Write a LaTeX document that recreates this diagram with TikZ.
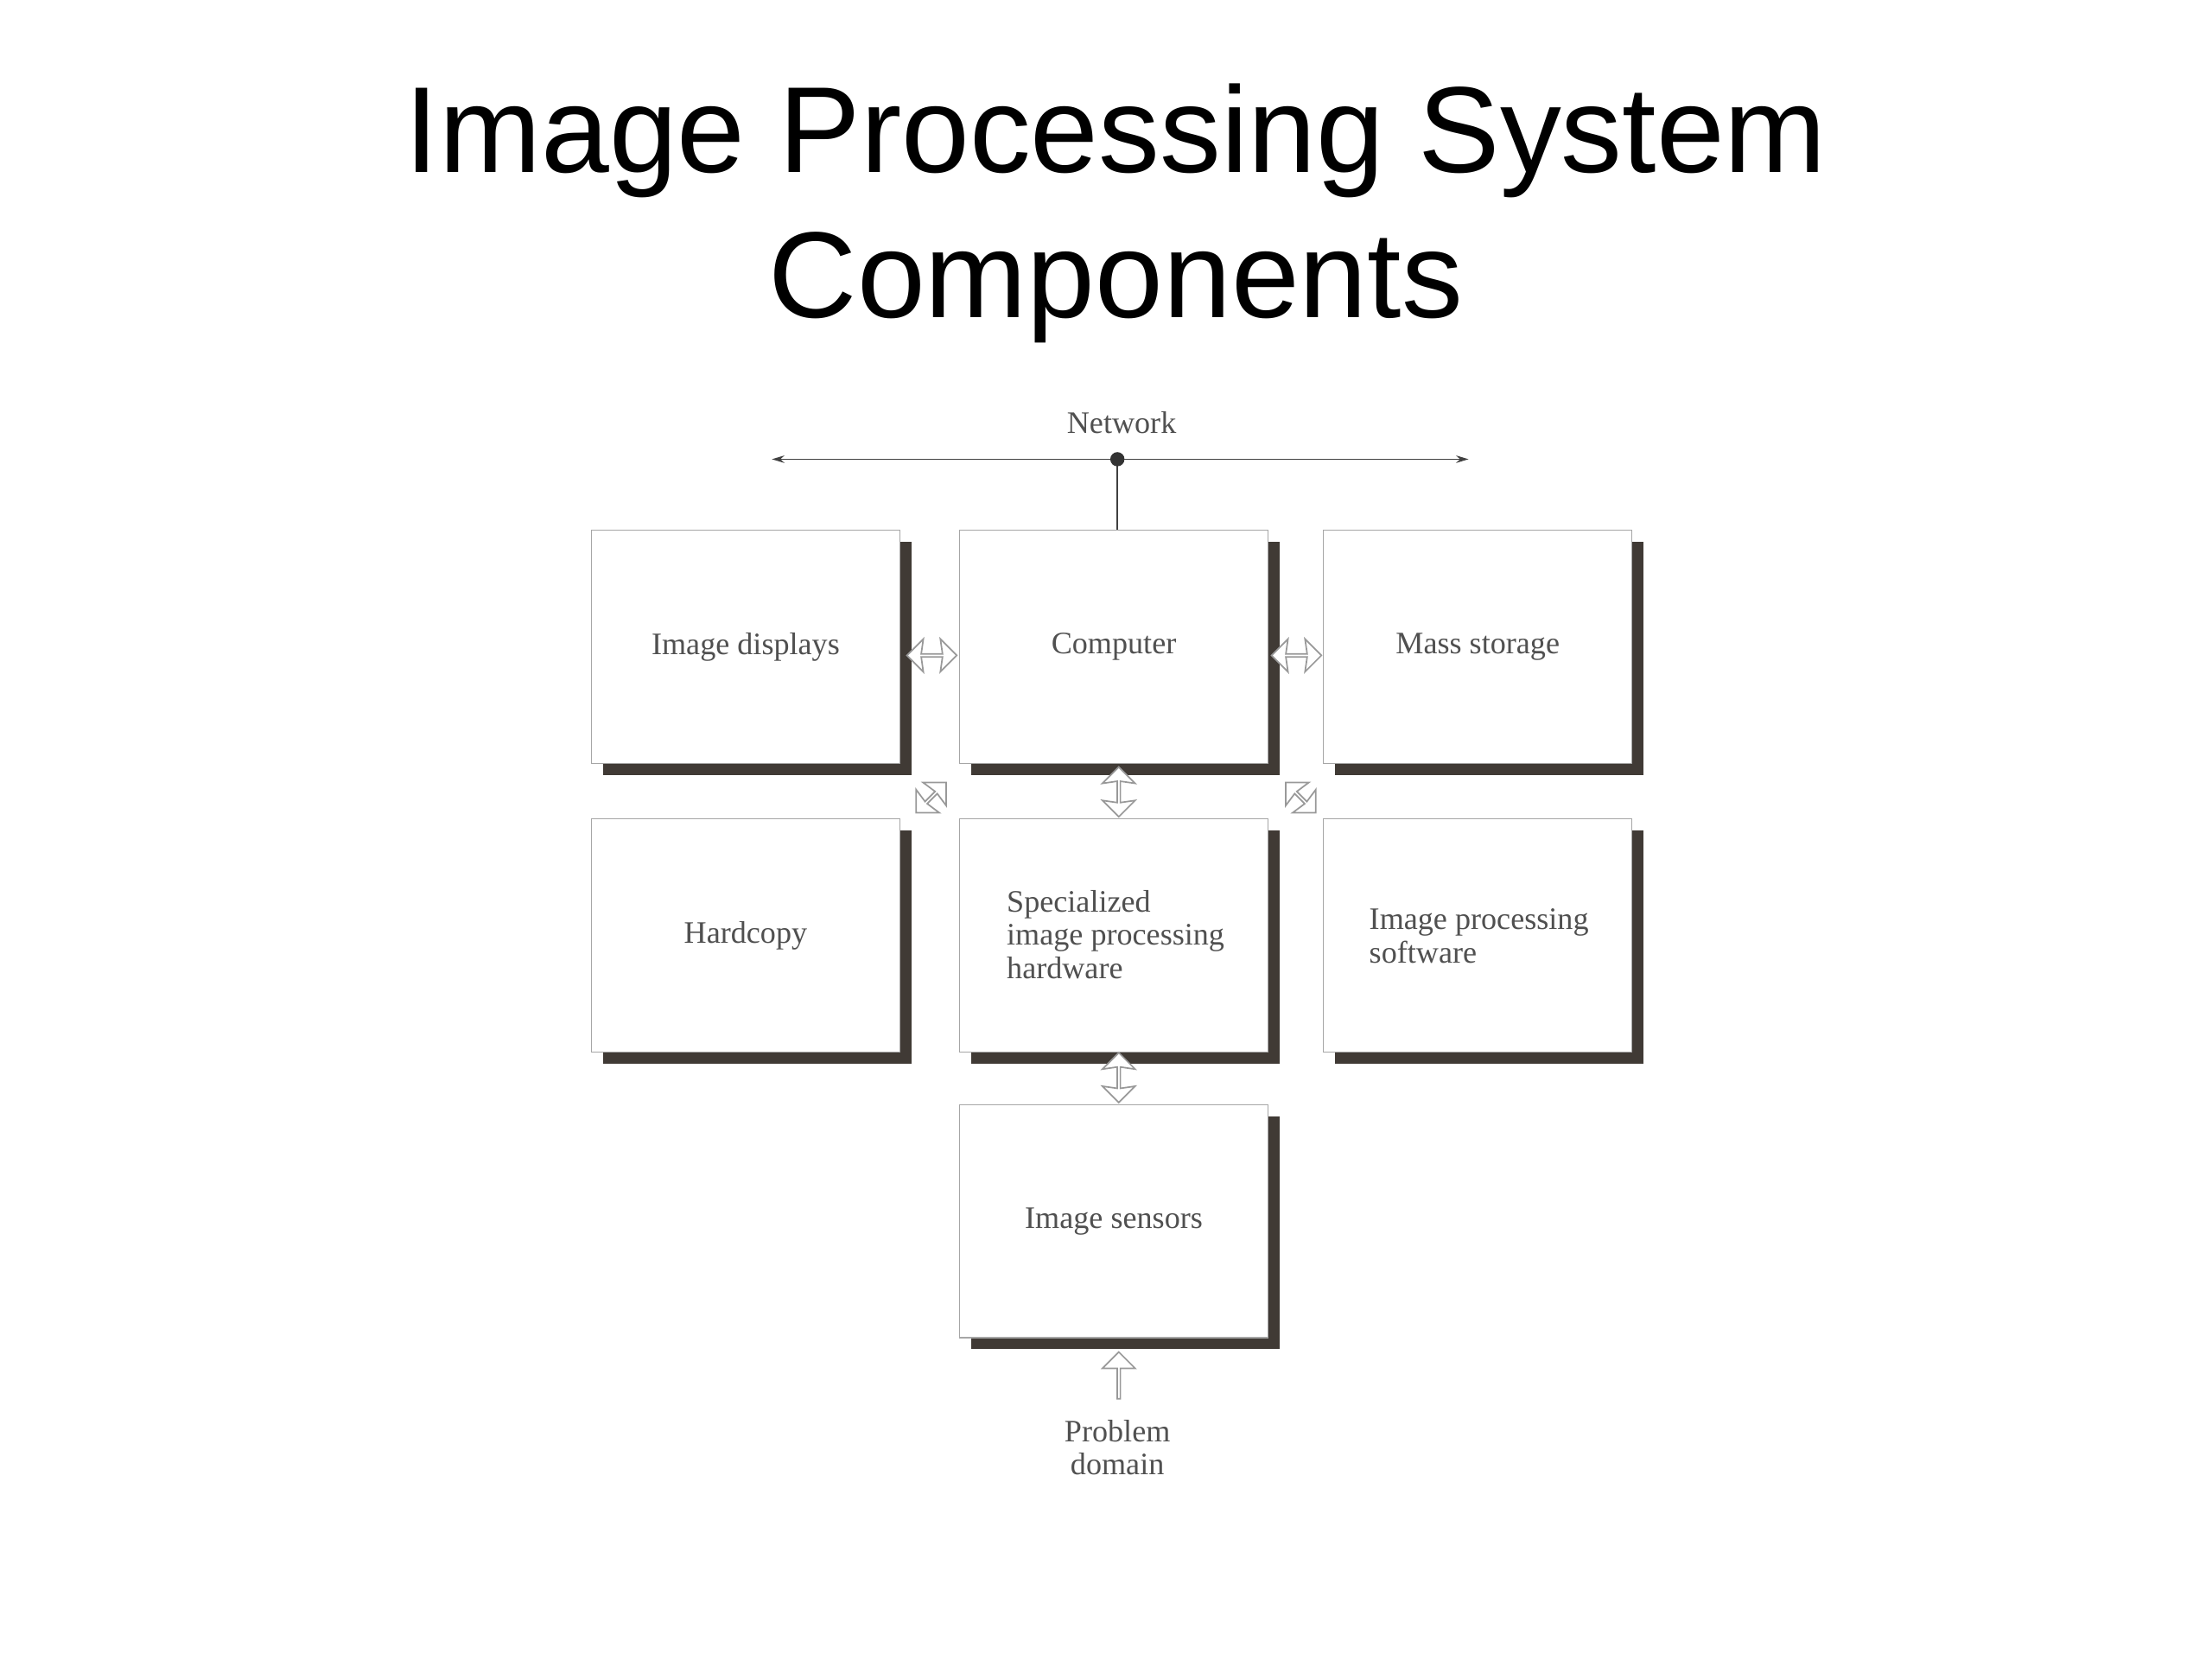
\documentclass[tikz,border=0pt]{standalone}
\usepackage{fontspec}
\setmainfont{Liberation Serif}
\newfontfamily\titlefont{Liberation Sans}
\usetikzlibrary{shapes.arrows,shadows,arrows.meta}
\definecolor{shad}{HTML}{403A35}
\definecolor{txt}{HTML}{505050}
\tikzset{
  blk/.style={draw=gray!70, fill=white, line width=0.5pt, minimum width=4.34cm, minimum height=3.28cm, inner sep=0,
    drop shadow={shadow xshift=0.16cm, shadow yshift=-0.16cm, fill=shad, opacity=1},
    font=\fontsize{12.5pt}{13.3pt}\selectfont, text=txt},
  fat/.style={double arrow, draw=gray!80, fill=white, line width=0.6pt, minimum height=0.7cm, minimum width=0.46cm, inner sep=0, double arrow head extend=0.1cm, double arrow head indent=0.03cm},
  fatone/.style={single arrow, draw=gray!80, fill=white, line width=0.6pt, minimum height=0.66cm, minimum width=0.46cm, inner sep=0, single arrow head extend=0.1cm},
  lbl/.style={font=\fontsize{12.5pt}{13.3pt}\selectfont, text=txt}
}
\begin{document}
\begin{tikzpicture}[x=0.02cm,y=-0.02cm]
\useasboundingbox (0,0) rectangle (1556,1167);
\node[font=\titlefont\fontsize{49pt}{58pt}\selectfont, align=center] (title) at (785,150) {Image Processing System\\Components};
% boxes
\node[blk] (disp) at (524.5,455) {Image displays};
\node[blk] (comp) at (783.5,455) {Computer};
\node[blk] (mass) at (1039.5,455) {Mass storage};
\node[blk] (hard) at (524.5,658) {Hardcopy};
\node[blk] (spec) at (783.5,658) {};
\node[lbl, align=left, anchor=north west] (spect) at (702,620) {Specialized\\image processing\\hardware};
\node[blk] (soft) at (1039.5,658) {};
\node[lbl, align=left, anchor=north west] (softt) at (957,633) {Image processing\\software};
\node[blk] (sens) at (783.5,859) {Image sensors};
% network
\coordinate (nl) at (543,323);
\coordinate (nr) at (1033,323);
\coordinate (nd) at (786,323);
\draw[gray!50!black, line width=0.5pt, -{Stealth[length=5pt,width=3pt]}] (nd) -- (nl);
\draw[gray!50!black, line width=0.5pt, -{Stealth[length=5pt,width=3pt]}] (nd) -- (nr);
\draw[gray!50!black, line width=0.5pt] (nd) -- (nd |- comp.north);
\fill[black!80] (nd) circle (5);
\node[lbl] (net) at (789,297) {Network};
% fat arrows
\node[fat] (a1) at (655.5,461) {};
\node[fat] (a2) at (912,461) {};
\node[fat, rotate=90] (a3) at (787,557) {};
\node[fat, rotate=90] (a4) at (787,758) {};
\node[fat, rotate=45, minimum height=0.6cm] (a5) at (655,561) {};
\node[fat, rotate=-45, minimum height=0.6cm] (a6) at (915,561) {};
\node[fatone, rotate=90] (a7) at (787,968) {};
\node[lbl, align=center] (prob) at (786,1018) {Problem\\domain};
\end{tikzpicture}
\end{document}
